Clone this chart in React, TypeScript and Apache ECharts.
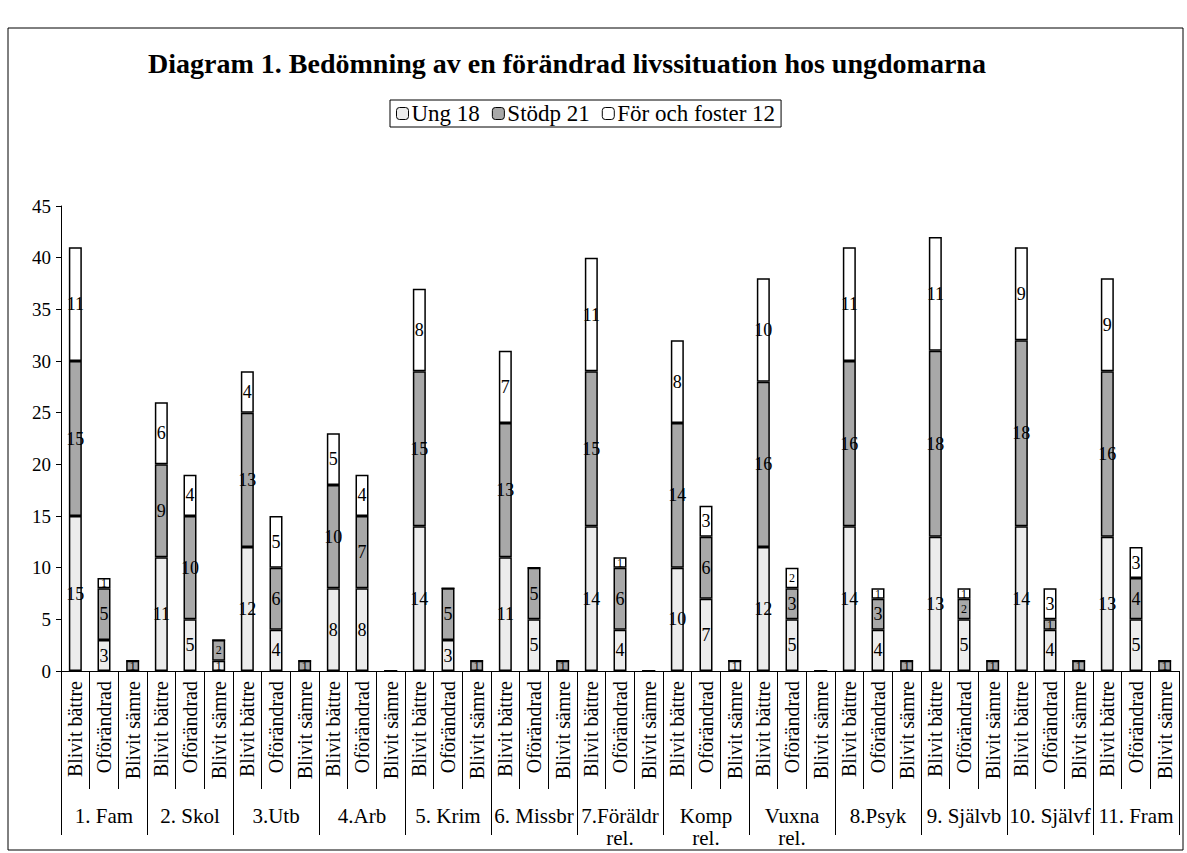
import React, { useEffect, useRef } from "react";
import * as echarts from "echarts";

const groups = ["1. Fam", "2. Skol", "3.Utb", "4.Arb", "5. Krim", "6. Missbr", "7.Föräldr\nrel.", "Komp\nrel.", "Vuxna\nrel.", "8.Psyk", "9. Självb", "10. Självf", "11. Fram"];
const subs = ["Blivit bättre", "Oförändrad", "Blivit sämre"];

const ung = [15, 3, 0, 11, 5, 1, 12, 4, 0, 8, 8, 0, 14, 3, 0, 11, 5, 0, 14, 4, 0, 10, 7, 1, 12, 5, 0, 14, 4, 0, 13, 5, 0, 14, 4, 0, 13, 5, 0];
const stodp = [15, 5, 1, 9, 10, 2, 13, 6, 1, 10, 7, 0, 15, 5, 1, 13, 5, 1, 15, 6, 0, 14, 6, 0, 16, 3, 0, 16, 3, 1, 18, 2, 1, 18, 1, 1, 16, 4, 1];
const fof = [11, 1, 0, 6, 4, 0, 4, 5, 0, 5, 4, 0, 8, 0, 0, 7, 0, 0, 11, 1, 0, 8, 3, 0, 10, 2, 0, 11, 1, 0, 11, 1, 0, 9, 3, 0, 9, 3, 0];

const yTicks = [0, 5, 10, 15, 20, 25, 30, 35, 40, 45];
const seriesNames = ["Ung 18", "Stödp 21", "För och foster 12"];

const FONT = "'Liberation Serif', 'DejaVu Serif', serif";

export default function App() {
  const ref = useRef<HTMLDivElement>(null);
  useEffect(() => {
    document.body.style.margin = "0";
    const chart = echarts.init(ref.current!, null, { renderer: "svg" });
    const categories: string[] = [];
    groups.forEach(() => subs.forEach((s) => categories.push(s)));
    const mk = (name: string, data: number[], color: string) => ({
      name,
      type: "bar",
      stack: "all",
      data: data.map((v) => (v > 0 && v <= 2 ? { value: v, label: { fontSize: 12 } } : v)),
      barWidth: 13,
      itemStyle: { color, borderColor: "#000", borderWidth: 1.5 },
      label: {
        show: true,
        position: "inside",
        color: "#000",
        fontFamily: FONT,
        fontSize: 18,
        formatter: (p: any) => (p.value > 0 ? String(p.value) : ""),
      },
    });
    chart.setOption({
      animation: false,
      backgroundColor: "#fff",
      textStyle: { fontFamily: FONT },
      title: {
        text: "Diagram 1. Bedömning av en förändrad livssituation hos ungdomarna",
        left: 562,
        textAlign: "center",
        top: 44,
        textStyle: { fontFamily: FONT, fontSize: 28, fontWeight: "bold", color: "#000" },
      },
      legend: {
        top: 100,
        left: 390,
        itemWidth: 12,
        itemHeight: 12,
        itemGap: 12,
        borderColor: "#000",
        borderWidth: 1,
        padding: [2, 6, 2, 6],
        textStyle: { fontFamily: FONT, fontSize: 23, color: "#000", padding: [0, 0, 0, -2] },
        data: seriesNames.map((n) => ({ name: n, itemStyle: { borderColor: "#000", borderWidth: 1 } })),
      },
      graphic: [
        {
          type: "rect",
          shape: { x: 8, y: 28, width: 1175, height: 822 },
          style: { fill: "none", stroke: "#000", lineWidth: 1 },
          silent: true,
        },
      ],
      grid: { left: 61, right: 8, top: 206, bottom: 182 },
      xAxis: [
        {
          type: "category",
          data: categories,
          axisLine: { lineStyle: { color: "#000", width: 1 } },
          axisTick: { show: true, interval: 0, length: 118, lineStyle: { color: "#000" } },
          axisLabel: {
            interval: 0,
            rotate: 90,
            margin: 10,
            color: "#000",
            fontFamily: FONT,
            fontSize: 20,
          },
        },
        {
          type: "category",
          position: "bottom",
          data: groups,
          axisLine: { show: false },
          axisTick: { show: true, interval: 0, length: 164, lineStyle: { color: "#000" } },
          axisLabel: {
            interval: 0,
            margin: 134,
            color: "#000",
            fontFamily: FONT,
            fontSize: 21,
            lineHeight: 22,
          },
        },
      ],
      yAxis: {
        type: "value",
        min: 0,
        max: 45,
        interval: 5,
        axisLine: { show: true, lineStyle: { color: "#000" } },
        axisTick: { show: true, inside: false, length: 5, lineStyle: { color: "#000" } },
        splitLine: { show: false },
        axisLabel: { color: "#000", fontFamily: FONT, fontSize: 19, margin: 10, customValues: yTicks },
      },
      series: [mk(seriesNames[0], ung, "#ececec"), mk(seriesNames[1], stodp, "#a8a8a8"), mk(seriesNames[2], fof, "#ffffff")],
    });
    return () => chart.dispose();
  }, []);
  return <div ref={ref} style={{ width: 1187, height: 853 }} />;
}
